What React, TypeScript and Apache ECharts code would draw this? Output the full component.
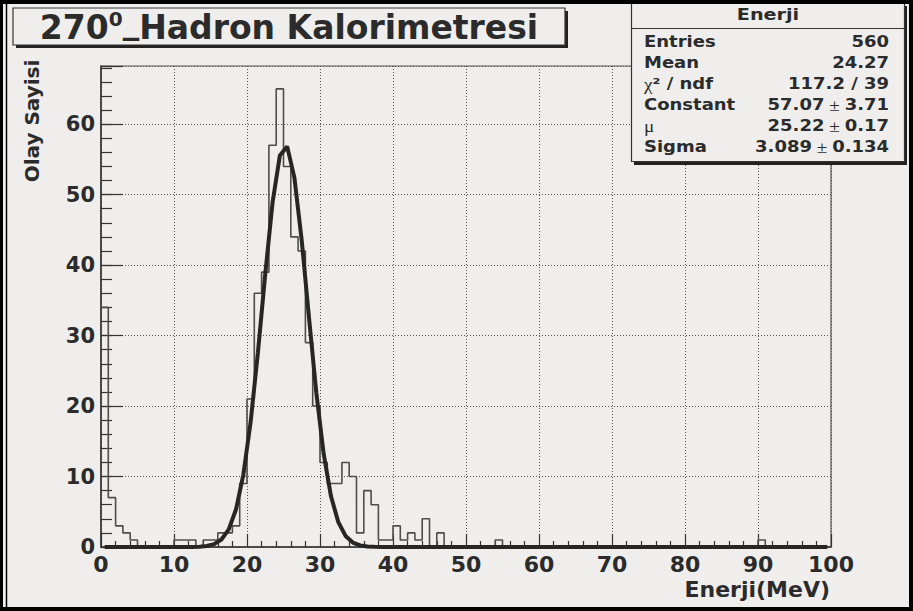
import { useEffect, useRef } from 'react';
import * as echarts from 'echarts';

// Histogram "Enerji": 100 bins of 1 MeV from 0 to 100 (counts)
const counts: number[] = [
  34, 7, 3, 2, 1, 0, 0, 0, 0, 0,
  1, 1, 1, 0, 1, 1, 2, 2, 3, 9,
  21, 36, 39, 57, 65, 54, 44, 42, 29, 20,
  12, 9, 9, 12, 10, 2, 8, 6, 1, 1,
  3, 1, 2, 1, 4, 0, 2, 0, 0, 0,
  0, 0, 0, 0, 1, 0, 0, 0, 0, 0,
  0, 0, 0, 0, 0, 0, 0, 0, 0, 0,
  0, 0, 0, 0, 0, 0, 0, 0, 0, 0,
  0, 0, 0, 0, 0, 0, 0, 0, 0, 0,
  1, 0, 0, 0, 0, 0, 0, 0, 0, 0,
];

// Gaussian fit curve as drawn
const fitX: number[] = [0.5, 12.5, 13.5, 14.5, 15.5, 16.5, 17.5, 18.5, 19.5, 20.5, 21.5, 22.5, 23.5, 24.5, 25.5, 26.5, 27.5, 28.5, 29.5, 30.5, 31.5, 32.5, 33.5, 34.5, 35.5, 36.5, 37.5, 38.5, 99.5];
const fitY: number[] = [0, 0.01, 0.04, 0.14, 0.4, 1.06, 2.51, 5.35, 10.27, 17.76, 27.63, 38.73, 48.87, 55.54, 56.84, 52.37, 43.46, 32.48, 21.85, 13.24, 7.23, 3.55, 1.57, 0.63, 0.22, 0.07, 0.02, 0, 0];

const xMin = 0;
const xMax = 100;
const yMax = 68.25;

const titleRich = '{a|270}{s|0}{u|_}{a|Hadron Kalorimetresi}';
const statsTitle = 'Enerji';
const statsLabels: string[] = ['Entries', 'Mean', '{sym|χ}{b|² / ndf}', 'Constant', '{sym|μ}', 'Sigma'];
const statsValues: string[] = ['560', '24.27', '117.2 / 39', '57.07 ± 3.71', '25.22 ± 0.17', '3.089 ± 0.134'];
const xTitle = 'Enerji(MeV)';
const yTitle = 'Olay Sayisi';

const BG = '#efeeec';
const INK = '#2b2b2b';
const FONT = '"DejaVu Sans", sans-serif';

function richValue(v: string): string {
  return '{b|' + v.replace(' ± ', '}{sym| ± }{b|') + '}';
}

function richLabel(v: string): string {
  return v.startsWith('{') ? v : '{b|' + v + '}';
}

export default function App() {
  const ref = useRef<HTMLDivElement>(null);

  useEffect(() => {
    if (!ref.current) return;
    const chart = echarts.init(ref.current, undefined, { renderer: 'svg' });

    const histData: number[][] = counts.map((c, i) => [xMin + i, c]);
    histData.push([xMax, counts[counts.length - 1]]);
    const fitData: number[][] = fitX.map((x, i) => [x, fitY[i]]);

    const rich = {
      b: { fontFamily: FONT, fontWeight: 'bold', fontSize: 15, fill: INK, color: INK },
      sym: { fontFamily: '"Liberation Serif", serif', fontWeight: 'normal', fontSize: 16, fill: INK, color: INK },
    };

    const rowY0 = 42;
    const rowStep = 21.1;
    const statsEls: any[] = [];
    statsLabels.forEach((lab, i) => {
      statsEls.push({
        type: 'text', x: 644, y: rowY0 + i * rowStep, scaleX: 1.2, z: 112,
        style: { text: richLabel(lab), rich, align: 'left', verticalAlign: 'middle', fill: INK },
      });
      statsEls.push({
        type: 'text', x: 889, y: rowY0 + i * rowStep, scaleX: 1.2, z: 112,
        style: { text: richValue(statsValues[i]), rich, align: 'right', verticalAlign: 'middle', fill: INK },
      });
    });

    const titleStyle = { fontFamily: FONT, fontWeight: 'bold', fill: INK, color: INK };

    chart.setOption({
      animation: false,
      backgroundColor: BG,
      grid: {
        left: 101, top: 66, width: 730, height: 481,
        show: true, borderColor: '#555', borderWidth: 1.2, backgroundColor: 'transparent',
      },
      xAxis: {
        type: 'value', min: xMin, max: xMax, interval: 10,
        axisLine: { show: true, onZero: false, lineStyle: { color: '#333', width: 1.5 } },
        axisTick: { show: true, inside: true, length: 13, lineStyle: { color: '#333', width: 1.2 } },
        minorTick: { show: true, splitNumber: 5, length: 6, lineStyle: { color: '#333', width: 1.2 } },
        splitLine: { show: true, lineStyle: { color: '#555', width: 1, type: [1, 2] } },
        axisLabel: { fontFamily: FONT, fontWeight: 'bold', fontSize: 22, color: INK, margin: 9, lineHeight: 17 },
      },
      yAxis: [
        {
          type: 'value', min: 0, max: yMax, interval: 10,
          axisLine: { show: true, onZero: false, lineStyle: { color: '#333', width: 1.5 } },
          axisTick: { show: true, inside: true, length: 22, lineStyle: { color: '#333', width: 1.2 } },
          splitLine: { show: true, lineStyle: { color: '#555', width: 1, type: [1, 2] } },
          axisLabel: {
            fontFamily: FONT, fontWeight: 'bold', fontSize: 21, color: INK, margin: 6,
            formatter: (v: number) => (Math.abs(v % 10) < 1e-9 ? String(v) : ''),
          },
        },
        {
          type: 'value', min: 0, max: yMax, interval: 2, position: 'left',
          axisLine: { show: false },
          axisTick: { show: true, inside: true, length: 11, lineStyle: { color: '#333', width: 1.2 } },
          splitLine: { show: false },
          axisLabel: { show: false },
        },
      ],
      series: [
        {
          type: 'line', name: 'Enerji', data: histData, step: 'end', yAxisIndex: 0,
          showSymbol: false, symbol: 'none',
          lineStyle: { color: '#4d4d4d', width: 1.6 },
          z: 3,
        },
        {
          type: 'line', name: 'gaus', data: fitData, yAxisIndex: 0,
          showSymbol: false, symbol: 'none', smooth: false,
          lineStyle: { color: '#262626', width: 4 },
          z: 4,
        },
      ],
      graphic: {
        elements: [
          // canvas border
          { type: 'rect', shape: { x: 0, y: 0, width: 913, height: 4 }, style: { fill: '#000' }, z: 200 },
          { type: 'rect', shape: { x: 0, y: 0, width: 3, height: 611 }, style: { fill: '#000' }, z: 200 },
          { type: 'rect', shape: { x: 909, y: 0, width: 4, height: 611 }, style: { fill: '#000' }, z: 200 },
          { type: 'rect', shape: { x: 0, y: 607, width: 913, height: 4 }, style: { fill: '#000' }, z: 200 },
          { type: 'line', shape: { x1: 6.5, y1: 4, x2: 6.5, y2: 607 }, style: { stroke: '#000', lineWidth: 1.5 }, z: 200 },
          // title box
          { type: 'rect', shape: { x: 16, y: 11, width: 552, height: 37 }, style: { fill: '#222' }, z: 100 },
          { type: 'rect', shape: { x: 13, y: 8, width: 552, height: 37 }, style: { fill: BG, stroke: '#333', lineWidth: 1.2 }, z: 101 },
          {
            type: 'text', x: 289, y: 27, z: 102,
            style: {
              text: titleRich, align: 'center', verticalAlign: 'middle', fill: INK,
              rich: {
                a: { ...titleStyle, fontSize: 33, lineHeight: 44 },
                s: { ...titleStyle, fontSize: 20, verticalAlign: 'top', padding: [4, 0, 0, 0] },
                u: { ...titleStyle, fontSize: 33, verticalAlign: 'top' },
              },
            },
          },
          // stats box
          { type: 'rect', shape: { x: 634, y: 6, width: 273, height: 159 }, style: { fill: '#222' }, z: 110 },
          { type: 'rect', shape: { x: 631.5, y: 3.5, width: 273, height: 158 }, style: { fill: BG, stroke: '#333', lineWidth: 1.2 }, z: 111 },
          { type: 'line', shape: { x1: 631.5, y1: 28.5, x2: 904.5, y2: 28.5 }, style: { stroke: '#333', lineWidth: 1.2 }, z: 112 },
          {
            type: 'text', x: 768, y: 15, scaleX: 1.2, z: 112,
            style: { text: statsTitle, fontFamily: FONT, fontWeight: 'bold', fontSize: 16, fill: INK, align: 'center', verticalAlign: 'middle' },
          },
          ...statsEls,
          // axis titles
          {
            type: 'text', x: 830, y: 589, z: 102,
            style: { text: xTitle, fontFamily: FONT, fontWeight: 'bold', fontSize: 22, lineHeight: 18, fill: INK, align: 'right', verticalAlign: 'middle' },
          },
          {
            type: 'text', x: 32, y: 121, rotation: Math.PI / 2, z: 102,
            style: { text: yTitle, fontFamily: FONT, fontWeight: 'bold', fontSize: 20, fill: INK, align: 'center', verticalAlign: 'middle' },
          },
        ],
      },
    });

    return () => chart.dispose();
  }, []);

  return (
    <div
      ref={ref}
      style={{ position: 'fixed', left: 0, top: 0, width: 913, height: 611 }}
    />
  );
}
